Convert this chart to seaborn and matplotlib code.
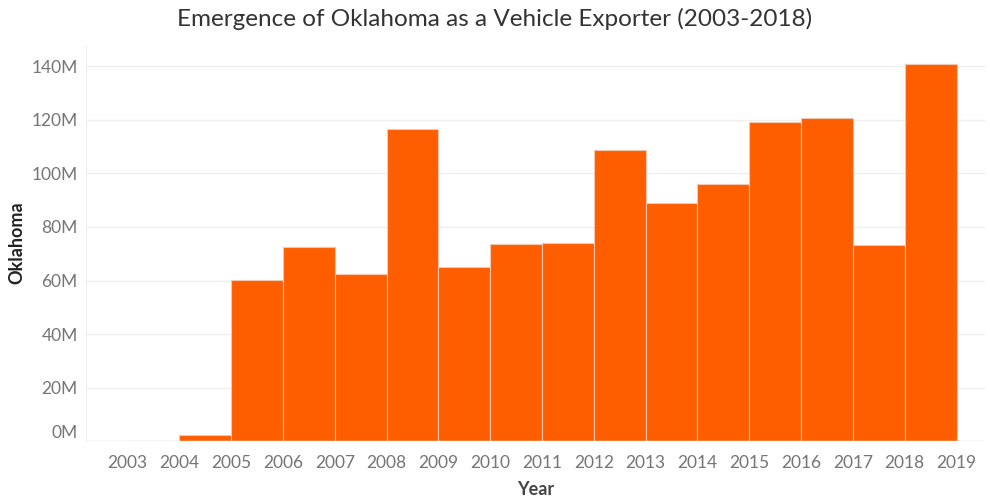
import numpy as np
import pandas as pd
import matplotlib.pyplot as plt
import seaborn as sns

years = [2003, 2004, 2005, 2006, 2007, 2008, 2009, 2010, 2011,
         2012, 2013, 2014, 2015, 2016, 2017, 2018]
exports = [0.0, 2.2, 60.1, 72.4, 62.3, 116.4, 64.9, 73.5, 73.9,
           108.6, 88.8, 95.9, 119.0, 120.5, 73.1, 140.7]  # millions
year_ticks = list(range(2003, 2020))
y_ticks = [0, 20, 40, 60, 80, 100, 120, 140]

df = pd.DataFrame({'Year': years, 'Oklahoma': np.array(exports) * 1e6})

sns.set_style('white')
plt.rcParams['font.family'] = ['Lato', 'DejaVu Sans']

fig = plt.figure(figsize=(9.9, 4.98), dpi=100)
ax = fig.add_axes([0.087, 0.114, 0.908, 0.796])

sns.histplot(data=df, x='Year', weights='Oklahoma', bins=year_ticks,
             color='#ff5e00', alpha=1, edgecolor='#f3c7ad', linewidth=0.8,
             ax=ax, zorder=3)

ax.set_xlim(2002.2, 2019.55)
ax.set_ylim(0, 148e6)
ax.set_xticks(year_ticks)
ax.set_xticklabels([str(y) for y in year_ticks], fontsize=12.5, color='#757575')
ax.set_yticks([v * 1e6 for v in y_ticks])
ax.set_yticklabels([f'{v}M' for v in y_ticks], fontsize=12.5, color='#757575')
ax.get_yticklabels()[0].set_verticalalignment('bottom')

ax.grid(axis='y', color='#efefef', linewidth=1, zorder=0)
for s in ['top', 'right', 'bottom']:
    ax.spines[s].set_visible(False)
ax.spines['left'].set_color('#f0f0f0')
ax.axhline(0, color='#e6e6e6', linewidth=1, zorder=4)
ax.tick_params(axis='x', length=4, color='#e6e6e6', pad=6)
ax.tick_params(axis='y', length=0, pad=6)

ax.set_xlabel('Year', fontsize=13, fontweight='bold', color='#444444', labelpad=7)
ax.set_ylabel('Oklahoma', fontsize=13, fontweight='bold', color='#222222', labelpad=4)
fig.suptitle('Emergence of Oklahoma as a Vehicle Exporter (2003-2018)',
             fontsize=17.5, color='#333333', y=0.985)

plt.savefig('out.png', dpi=100)
